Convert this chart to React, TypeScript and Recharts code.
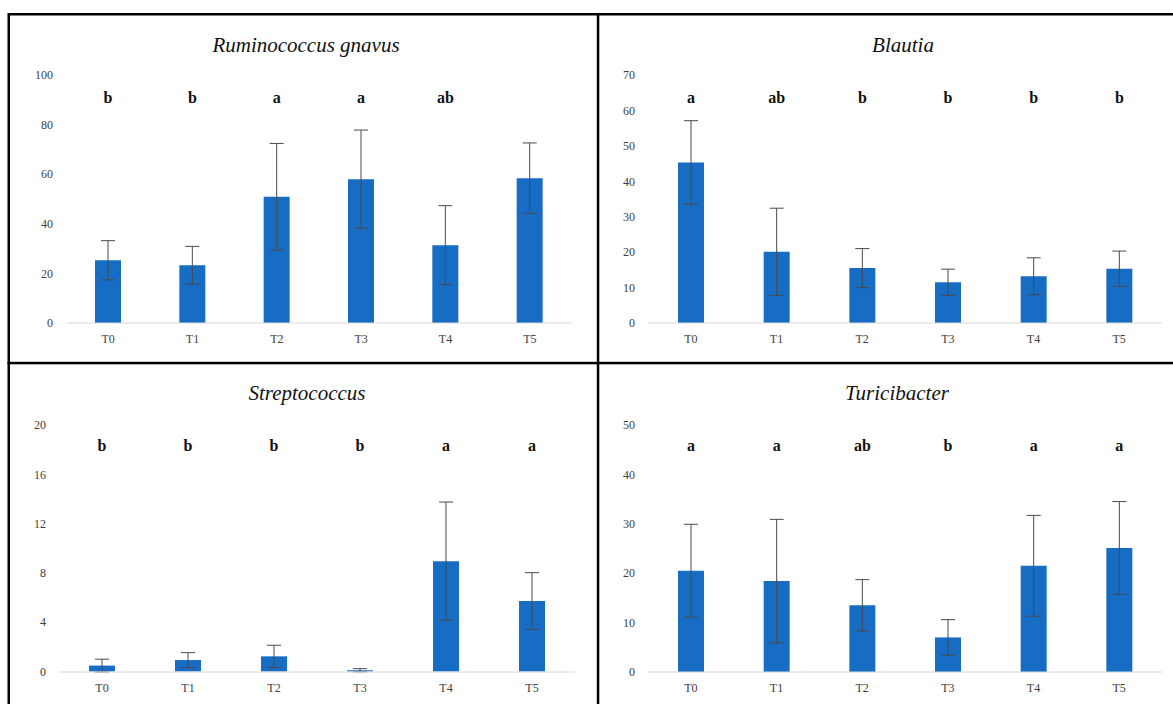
import { BarChart, Bar, XAxis, YAxis, ErrorBar, LabelList } from 'recharts';

// sampling time points shared by all four genera
const timepoints = ['T0', 'T1', 'T2', 'T3', 'T4', 'T5'];

// Ruminococcus gnavus
const ruminococcusMean = [25.3, 23.3, 50.9, 58.0, 31.4, 58.4];
const ruminococcusSd = [7.9, 7.6, 21.5, 19.8, 15.9, 14.2];
const ruminococcusLetters = ['b', 'b', 'a', 'a', 'ab', ''];
const ruminococcusTicks = [0, 20, 40, 60, 80, 100];

// Blautia
const blautiaMean = [45.3, 20.1, 15.5, 11.5, 13.2, 15.3];
const blautiaSd = [11.8, 12.3, 5.5, 3.7, 5.2, 5.0];
const blautiaLetters = ['a', 'ab', 'b', 'b', 'b', 'b'];
const blautiaTicks = [0, 10, 20, 30, 40, 50, 60, 70];

// Streptococcus
const streptococcusMean = [0.48, 0.93, 1.23, 0.1, 8.95, 5.72];
const streptococcusSd = [0.52, 0.6, 0.9, 0.13, 4.8, 2.3];
const streptococcusLetters = ['b', 'b', 'b', 'b', 'a', 'a'];
const streptococcusTicks = [0, 4, 8, 12, 16, 20];

// Turicibacter
const turicibacterMean = [20.5, 18.4, 13.5, 7.0, 21.5, 25.1];
const turicibacterSd = [9.4, 12.5, 5.2, 3.6, 10.2, 9.4];
const turicibacterLetters = ['a', 'a', 'ab', 'b', 'a', 'a'];
const turicibacterTicks = [0, 10, 20, 30, 40, 50];

const BAR_COLOR = '#176cc4';
const SERIF = '"Liberation Serif", "Times New Roman", serif';

type Box = { left: number; right: number; top: number; bottom: number };

function GenusPanel({
  cellX,
  cellY,
  plot,
  letterBaseline,
  means,
  sds,
  letters,
  ticks,
}: {
  cellX: number;
  cellY: number;
  plot: Box;
  letterBaseline: number;
  means: number[];
  sds: number[];
  letters: string[];
  ticks: number[];
}) {
  const data = timepoints.map((t, i) => ({
    name: t,
    mean: means[i],
    sd: sds[i],
    letter: letters[i],
  }));

  const width = plot.right - cellX + 10;
  const height = plot.bottom - cellY + 40;
  const letterY = letterBaseline - cellY;

  const renderLetter = (props: any) => {
    const vb = props.viewBox || props;
    if (!props.value) return null;
    return (
      <text
        x={Number(vb.x) + Number(vb.width) / 2}
        y={letterY}
        textAnchor="middle"
        fontFamily={SERIF}
        fontWeight="bold"
        fontSize={16}
        fill="#111"
      >
        {props.value}
      </text>
    );
  };

  return (
    <div style={{ position: 'absolute', left: cellX, top: cellY }}>
      <BarChart
        width={width}
        height={height}
        data={data}
        margin={{ top: plot.top - cellY, right: 10, bottom: 10, left: 0 }}
      >
        <XAxis
          dataKey="name"
          height={30}
          tickLine={false}
          tickSize={0}
          tickMargin={11}
          axisLine={{ stroke: '#d9d9d9' }}
          tick={{ fill: '#404040', fontSize: 12, fontFamily: SERIF }}
          interval={0}
        />
        <YAxis
          width={plot.left - cellX}
          domain={[ticks[0], ticks[ticks.length - 1]]}
          ticks={ticks}
          tickLine={false}
          axisLine={false}
          tickSize={0}
          tickMargin={13}
          tick={{ fill: '#404040', fontSize: 12, fontFamily: SERIF }}
          interval={0}
        />
        <Bar dataKey="mean" fill={BAR_COLOR} barSize={26} isAnimationActive={false}>
          <ErrorBar
            dataKey="sd"
            width={7}
            stroke="#4a4a4a"
            strokeWidth={1}
            direction="y"
            isAnimationActive={false}
          />
          <LabelList dataKey="letter" content={renderLetter} />
        </Bar>
      </BarChart>
    </div>
  );
}

const titles = [
  { text: 'Ruminococcus gnavus', x: 306, y: 52 },
  { text: 'Blautia', x: 903, y: 52 },
  { text: 'Streptococcus', x: 307, y: 400 },
  { text: 'Turicibacter', x: 897, y: 400 },
];

export default function App() {
  return (
    <div
      style={{
        position: 'absolute',
        left: 0,
        top: 0,
        width: 1173,
        height: 704,
        overflow: 'hidden',
        background: '#fff',
      }}
    >
      <GenusPanel
        cellX={10}
        cellY={16}
        plot={{ left: 66, right: 572, top: 75, bottom: 323 }}
        letterBaseline={103}
        means={ruminococcusMean}
        sds={ruminococcusSd}
        letters={ruminococcusLetters}
        ticks={ruminococcusTicks}
      />
      <GenusPanel
        cellX={599}
        cellY={16}
        plot={{ left: 648, right: 1162, top: 75, bottom: 323 }}
        letterBaseline={103}
        means={blautiaMean}
        sds={blautiaSd}
        letters={blautiaLetters}
        ticks={blautiaTicks}
      />
      <GenusPanel
        cellX={10}
        cellY={364}
        plot={{ left: 59, right: 575, top: 425, bottom: 672 }}
        letterBaseline={451}
        means={streptococcusMean}
        sds={streptococcusSd}
        letters={streptococcusLetters}
        ticks={streptococcusTicks}
      />
      <GenusPanel
        cellX={599}
        cellY={364}
        plot={{ left: 648, right: 1162, top: 425, bottom: 672 }}
        letterBaseline={451}
        means={turicibacterMean}
        sds={turicibacterSd}
        letters={turicibacterLetters}
        ticks={turicibacterTicks}
      />

      {/* table frame and genus titles */}
      <svg
        width={1173}
        height={704}
        style={{ position: 'absolute', left: 0, top: 0, pointerEvents: 'none' }}
      >
        <rect x={8} y={13} width={1165} height={2.5} fill="#000" />
        <rect x={7.5} y={13} width={2.5} height={691} fill="#000" />
        <rect x={596.8} y={13} width={2.5} height={691} fill="#000" />
        <rect x={7.5} y={361.8} width={1165.5} height={2.5} fill="#000" />
        {titles.map((t) => (
          <text
            key={t.text}
            x={t.x}
            y={t.y}
            textAnchor="middle"
            fontFamily={SERIF}
            fontStyle="italic"
            fontSize={21}
            fill="#111"
          >
            {t.text}
          </text>
        ))}
      </svg>
    </div>
  );
}
